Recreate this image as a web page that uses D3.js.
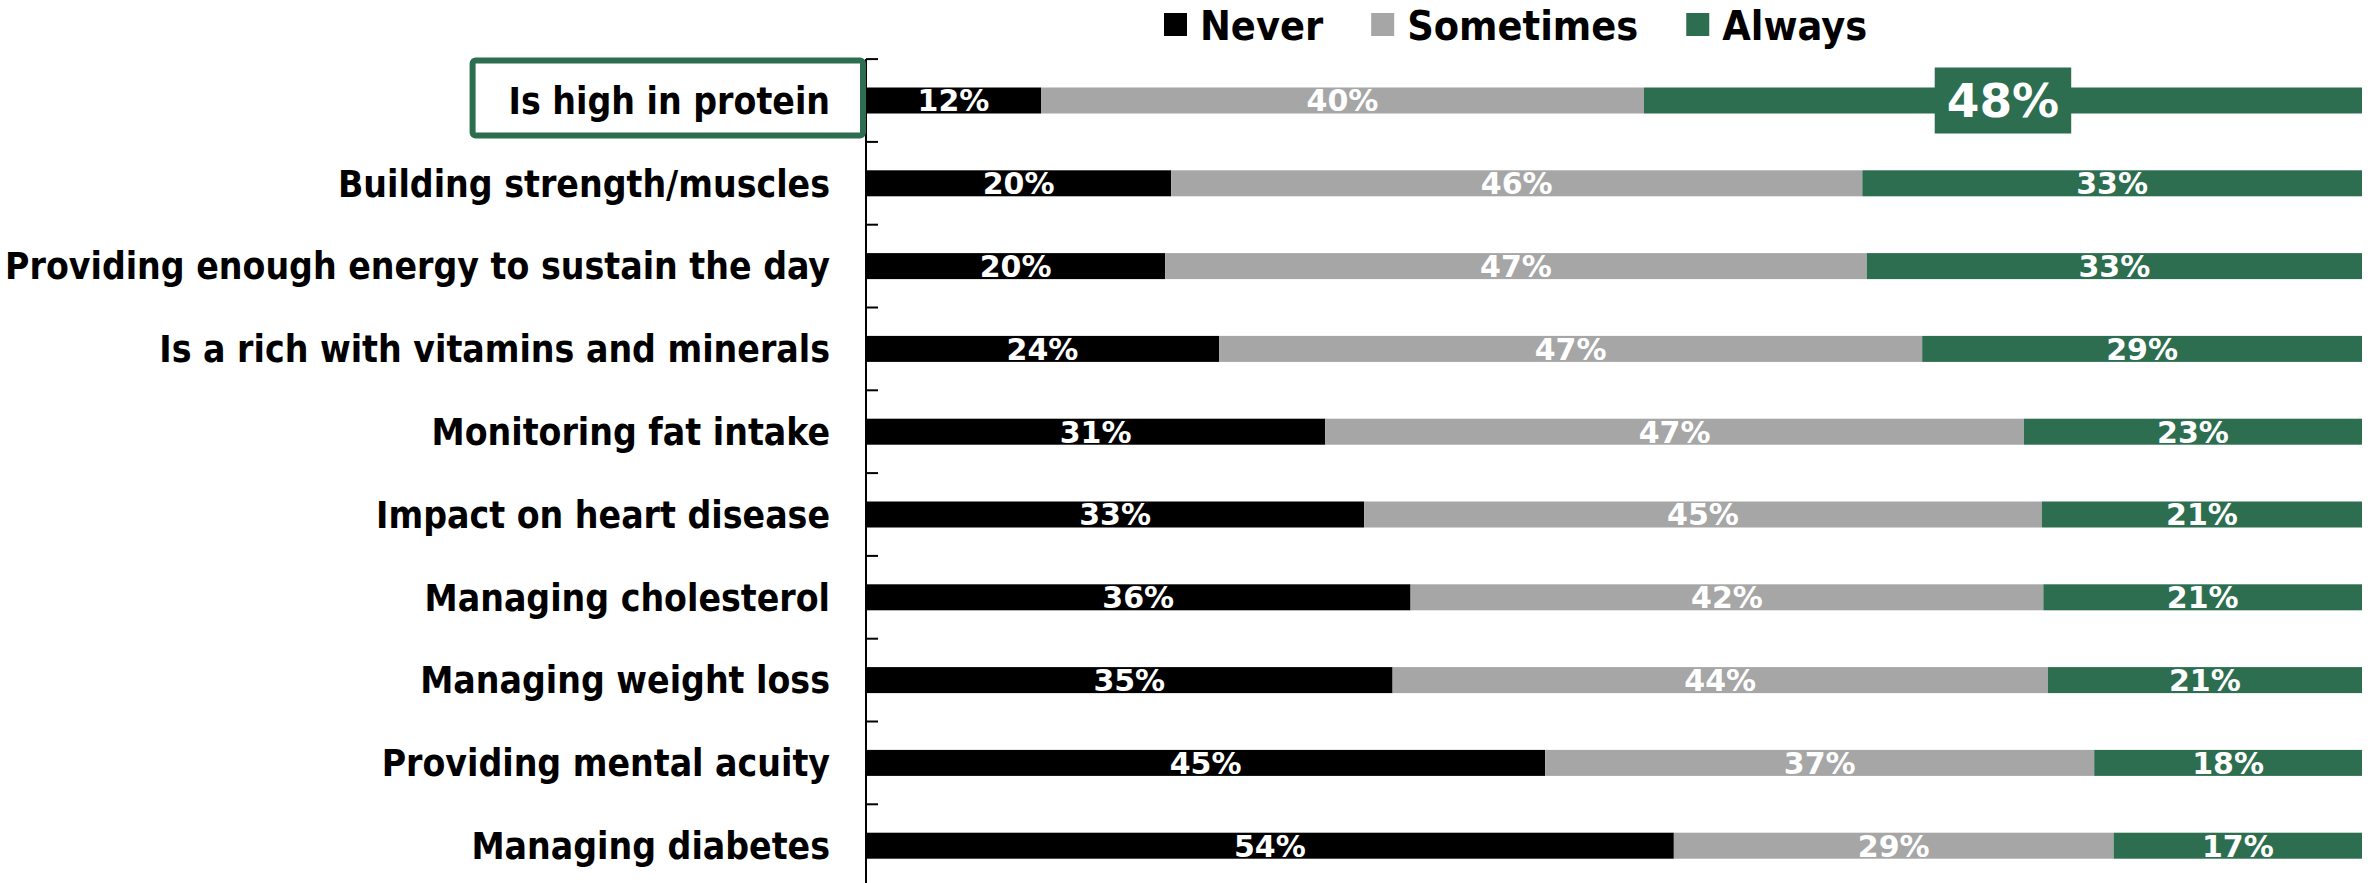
<!DOCTYPE html>
<html>
<head>
<meta charset="utf-8">
<script src="https://cdn.jsdelivr.net/npm/d3@7/dist/d3.min.js"></script>
<style>
  html, body { margin: 0; padding: 0; background: #ffffff; }
  svg { display: block; }
  text { font-family: "DejaVu Sans", Verdana, sans-serif; font-weight: bold; }
  text.narrow { font-family: "DejaVu Sans Condensed", "DejaVu Sans", sans-serif; font-stretch: condensed; }
</style>
</head>
<body>
<svg id="chart" width="2372" height="883"></svg>
<script>
// Survey attributes, top to bottom
const categories = [
  "Is high in protein",
  "Building strength/muscles",
  "Providing enough energy to sustain the day",
  "Is a rich with vitamins and minerals",
  "Monitoring fat intake",
  "Impact on heart disease",
  "Managing cholesterol",
  "Managing weight loss",
  "Providing mental acuity",
  "Managing diabetes"
];

// Share of respondents (%) per answer
const never     = [11.7, 20.4, 20.0, 23.6, 30.7, 33.3, 36.4, 35.2, 45.4, 54.0];
const sometimes = [40.3, 46.2, 46.9, 47.0, 46.7, 45.3, 42.3, 43.8, 36.7, 29.4];
const always    = [48.0, 33.4, 33.1, 29.4, 22.6, 21.4, 21.3, 21.0, 17.9, 16.6];

const seriesNames  = ["Never", "Sometimes", "Always"];
const seriesColors = ["#000000", "#a6a6a6", "#2c6e4f"];
const highlighted  = "Is high in protein";

const rows = categories.map((c, i) => ({
  category: c, Never: never[i], Sometimes: sometimes[i], Always: always[i]
}));

const svg = d3.select("#chart");

const x = d3.scaleLinear().domain([0, 100]).range([866, 2362]);
const y = d3.scaleBand()
  .domain(categories)
  .range([59.1, 887.1])
  .paddingInner(0.686)
  .paddingOuter(0.343);

const color = d3.scaleOrdinal().domain(seriesNames).range(seriesColors);
const stacked = d3.stack().keys(seriesNames)(rows);

// Stacked bars
const layers = svg.append("g").selectAll("g")
  .data(stacked)
  .join("g")
  .attr("fill", d => color(d.key));

layers.selectAll("rect")
  .data(d => d.map(s => ({ key: d.key, s })))
  .join("rect")
  .attr("x", d => x(d.s[0]))
  .attr("y", d => y(d.s.data.category))
  .attr("width", d => x(d.s[1]) - x(d.s[0]))
  .attr("height", y.bandwidth());

// Segment value labels
const valueLayer = svg.append("g");
stacked.forEach(layer => {
  layer.forEach(s => {
    const cat = s.data.category;
    const v = s.data[layer.key];
    const cx = (x(s[0]) + x(s[1])) / 2;
    const cy = y(cat) + y.bandwidth() / 2;
    const label = Math.round(v) + "%";
    if (cat === highlighted && layer.key === "Always") {
      const g = valueLayer.append("g");
      const t = g.append("text")
        .attr("x", cx).attr("y", cy + 47 * 0.36)
        .attr("text-anchor", "middle")
        .attr("fill", "#ffffff")
        .style("font-size", "47px")
        .text(label);
      const w = t.node().getComputedTextLength();
      g.insert("rect", "text")
        .attr("x", cx - w / 2 - 12)
        .attr("y", cy - 33)
        .attr("width", w + 24)
        .attr("height", 66)
        .attr("fill", color("Always"));
    } else {
      valueLayer.append("text")
        .attr("x", cx).attr("y", cy + 30 * 0.36)
        .attr("text-anchor", "middle")
        .attr("fill", "#ffffff")
        .style("font-size", "30px")
        .text(label);
    }
  });
});

// Category axis: line plus inward ticks at band boundaries
const axisX = x(0);
const axisG = svg.append("g");
axisG.append("line")
  .attr("x1", axisX).attr("x2", axisX)
  .attr("y1", y.range()[0]).attr("y2", 883)
  .attr("stroke", "#000").attr("stroke-width", 2);
const boundaries = categories.map(c => y(c) - y.step() * y.paddingInner() / 2);
axisG.selectAll("line.tick")
  .data(boundaries)
  .join("line")
  .attr("class", "tick")
  .attr("x1", axisX).attr("x2", axisX + 12)
  .attr("y1", d => d).attr("y2", d => d)
  .attr("stroke", "#000").attr("stroke-width", 2);

// Category labels
const labelG = svg.append("g");
categories.forEach(c => {
  const t = labelG.append("text")
    .attr("class", "narrow")
    .attr("x", axisX - 36)
    .attr("y", y(c) + y.bandwidth() / 2 + 37 * 0.36)
    .attr("text-anchor", "end")
    .attr("fill", "#000")
    .style("font-size", "37px")
    .text(c);
  if (c === highlighted) {
    const bb = t.node().getBBox();
    const cy = y(c) + y.bandwidth() / 2;
    labelG.insert("rect", "text")
      .attr("x", bb.x - 36)
      .attr("y", cy - 40)
      .attr("width", axisX - 3 - (bb.x - 36))
      .attr("height", 75)
      .attr("rx", 3)
      .attr("fill", "#ffffff")
      .attr("stroke", color("Always"))
      .attr("stroke-width", 6);
  }
});

// Legend
const legend = svg.append("g");
let lx = 1164;
seriesNames.forEach(name => {
  legend.append("rect")
    .attr("x", lx).attr("y", 13)
    .attr("width", 23).attr("height", 23)
    .attr("fill", color(name));
  const t = legend.append("text")
    .attr("class", "narrow")
    .attr("x", lx + 36).attr("y", 25 + 41 * 0.36)
    .attr("fill", "#000")
    .style("font-size", "41px")
    .text(name);
  lx += 36 + t.node().getComputedTextLength() + 48;
});
</script>
</body>
</html>
